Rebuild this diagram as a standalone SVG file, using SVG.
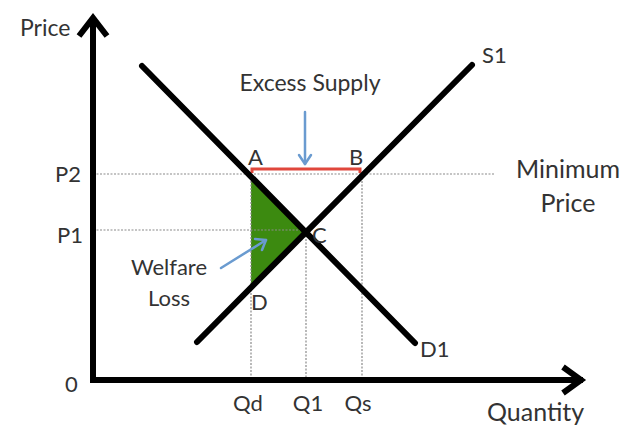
<svg xmlns="http://www.w3.org/2000/svg" width="628" height="425" viewBox="0 0 628 425">
<style>
text{font-family:Lato,"Liberation Sans",sans-serif;fill:#333;font-size:22px}
.big{font-size:25px}
.guide{stroke:#8a8a8a;stroke-width:1.2;stroke-dasharray:2 1.5;fill:none}
.curve{stroke:#000;stroke-width:6;stroke-linecap:round;fill:none}
.axis{stroke:#000;stroke-width:6;fill:none}
.blue{stroke:#6a9bd0;stroke-width:2.5;fill:none;stroke-linecap:round;stroke-linejoin:round}
</style>
<rect width="628" height="425" fill="#fff"/>
<g id="welfare-area"><polygon points="251,176 306,232 251,288" fill="#3c8a10"/></g>
<g id="guides">
<line class="guide" x1="93" y1="174" x2="494" y2="174"/>
<line class="guide" x1="93" y1="230" x2="306" y2="230"/>
<line class="guide" x1="251" y1="174" x2="251" y2="378"/>
<line class="guide" x1="306" y1="232" x2="306" y2="378"/>
<line class="guide" x1="362" y1="174" x2="362" y2="378"/>
</g>
<g id="excess-bar"><polyline points="252,173 252,169 360,169 360,173" fill="none" stroke="#e0473c" stroke-width="3"/></g>
<g id="axes">
<polyline class="axis" points="93,17 93,380 583,380"/>
<polyline class="axis" points="79,36 93,18 107,36" stroke-linejoin="miter"/>
<polyline class="axis" points="563,367 581,380 563,393" stroke-linejoin="miter"/>
</g>
<g id="demand"><line class="curve" x1="142" y1="66" x2="415" y2="343"/></g>
<g id="supply"><line class="curve" x1="472" y1="65" x2="197" y2="342"/></g>
<g id="connectors">
<line class="blue" x1="305" y1="112" x2="305" y2="164"/>
<polyline class="blue" points="299,155 305,164 311,155"/>
<line class="blue" x1="221" y1="268" x2="266" y2="240"/>
<polyline class="blue" points="255,239 266,240 262,250"/>
</g>
<g id="labels">
<text x="20" y="36" style="font-size:23px">Price</text>
<text x="310" y="91" text-anchor="middle" style="font-size:23px">Excess Supply</text>
<text x="482" y="63">S1</text>
<text class="big" x="568" y="178" text-anchor="middle">Minimum</text>
<text class="big" x="568" y="212" text-anchor="middle">Price</text>
<text x="55" y="182">P2</text>
<text x="57" y="243">P1</text>
<text x="65" y="392">0</text>
<text x="169" y="275" text-anchor="middle">Welfare</text>
<text x="169" y="306" text-anchor="middle">Loss</text>
<text x="248" y="165">A</text>
<text x="349" y="165">B</text>
<text x="312" y="243">C</text>
<text x="251" y="310">D</text>
<text x="420" y="357">D1</text>
<text x="248" y="411" text-anchor="middle">Qd</text>
<text x="308" y="411" text-anchor="middle">Q1</text>
<text x="358" y="411" text-anchor="middle">Qs</text>
<text class="big" x="487" y="421">Quantity</text>
</g>
</svg>
